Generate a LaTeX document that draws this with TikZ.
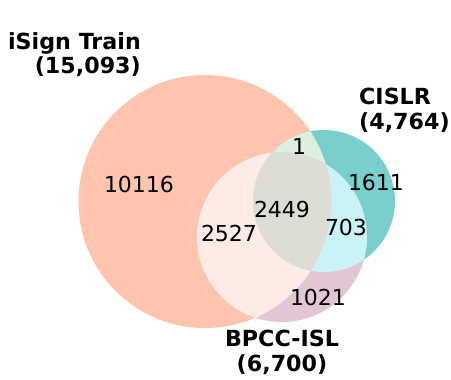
\documentclass[tikz,border=0pt]{standalone}
\usepackage{fontspec}
\setmainfont{DejaVu Sans}
\definecolor{isign}{HTML}{FEC4AE}
\definecolor{cislr}{HTML}{79CFCC}
\definecolor{bpcc}{HTML}{E2C6D6}
\definecolor{isigncislr}{HTML}{DCF0DD}
\definecolor{isignbpcc}{HTML}{FDEBE6}
\definecolor{cislrbpcc}{HTML}{CAF3F7}
\definecolor{allthree}{HTML}{DDDDD6}
\tikzset{
  count/.style={font=\fontsize{22}{24}\selectfont},
  setname/.style={font=\fontsize{22.2}{24.5}\selectfont\bfseries, inner sep=0pt},
}
\begin{document}
\begin{tikzpicture}[x=1pt,y=-1pt]
  \useasboundingbox (0,0) rectangle (451,380);
  % the three sets
  \fill[isign] (205,201.5) circle (126.5);
  \fill[cislr] (324,201) circle (71);
  \fill[bpcc] (282,237) circle (85);
  % overlaps
  \begin{scope}
    \clip (205,201.5) circle (126.5);
    \fill[isigncislr] (324,201) circle (71);
    \fill[isignbpcc] (282,237) circle (85);
  \end{scope}
  \begin{scope}
    \clip (324,201) circle (71);
    \fill[cislrbpcc] (282,237) circle (85);
    \clip (205,201.5) circle (126.5);
    \fill[allthree] (282,237) circle (85);
  \end{scope}
  % region counts
  \node[count] (nA) at (139,184) {10116};
  \node[count] (nAB) at (299,146) {1};
  \node[count] (nB) at (376,182) {1611};
  \node[count] (nABC) at (282,209) {2449};
  \node[count] (nBC) at (346,227) {703};
  \node[count] (nAC) at (229,233) {2527};
  \node[count] (nC) at (318,297) {1021};
  % set names
  \node[setname, align=right, anchor=north east] (isign) at (141,32) {iSign Train\\(15,093)};
  \node[setname, align=left, anchor=north west] (cislr) at (359,88) {CISLR\\(4,764)};
  \node[setname, align=center, anchor=north] (bpcc) at (282,330) {BPCC-ISL\\(6,700)};
\end{tikzpicture}
\end{document}
